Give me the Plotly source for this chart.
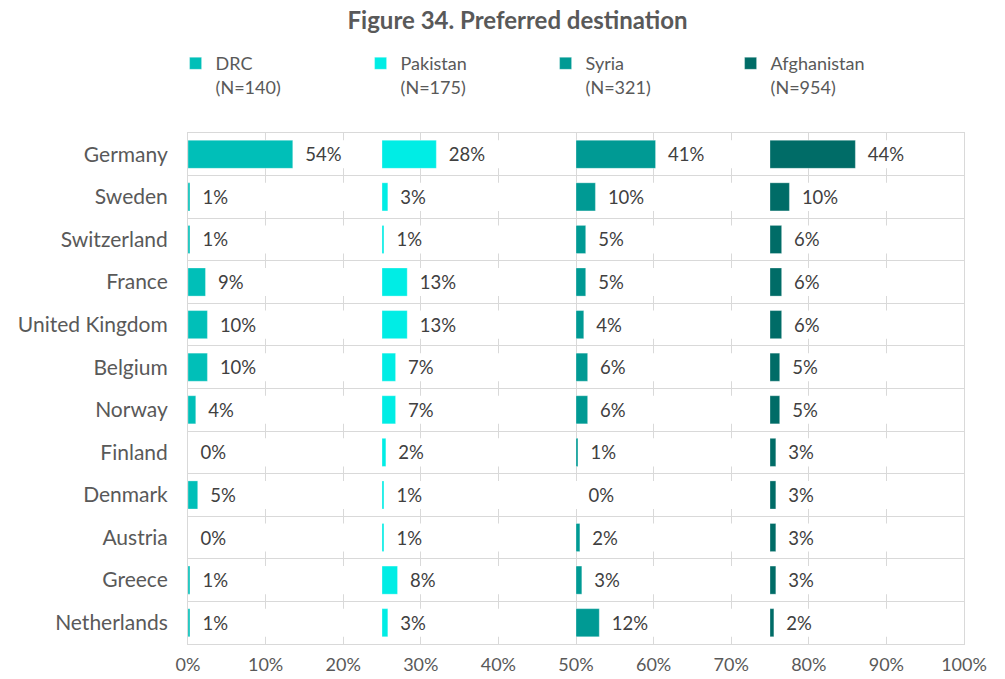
import plotly.graph_objects as go

countries = ["Germany", "Sweden", "Switzerland", "France", "United Kingdom", "Belgium",
             "Norway", "Finland", "Denmark", "Austria", "Greece", "Netherlands"]

series_names = ["DRC", "Pakistan", "Syria", "Afghanistan"]
series_n = [140, 175, 321, 954]

drc = [54, 1, 1, 9, 10, 10, 4, 0, 5, 0, 1, 1]
pakistan = [28, 3, 1, 13, 13, 7, 7, 2, 1, 1, 8, 3]
syria = [41, 10, 5, 5, 4, 6, 6, 1, 0, 2, 3, 12]
afghanistan = [44, 10, 6, 6, 6, 5, 5, 3, 3, 3, 3, 2]

x_ticks = [0, 10, 20, 30, 40, 50, 60, 70, 80, 90, 100]
x_tick_labels = [f"{t}%" for t in x_ticks]

colors = ["#00BFB8", "#00EDE5", "#009A94", "#006C67"]
series_values = [drc, pakistan, syria, afghanistan]

FONT = "Lato, 'Open Sans', sans-serif"
SECTION = 100 / len(series_values)  # each series gets a quarter of the axis

fig = go.Figure()

# white row bands (hide vertical gridlines behind the bars, like the original)
fig.add_trace(go.Bar(
    y=countries, x=[100] * len(countries), base=[0] * len(countries),
    orientation="h", marker=dict(color="white", line=dict(width=0)),
    showlegend=False, hoverinfo="skip",
))

for i, (name, n, vals, col) in enumerate(zip(series_names, series_n, series_values, colors)):
    fig.add_trace(go.Bar(
        y=countries,
        x=[v * SECTION / 100 for v in vals],
        base=[i * SECTION] * len(countries),
        orientation="h",
        name=f"{name}<br>(N={n})",
        marker=dict(color=col, line=dict(color="rgba(255,255,255,0.6)", width=0.5)),
        text=[f"\u00a0\u00a0{v}%" for v in vals],
        textposition="outside",
        cliponaxis=False,
        textfont=dict(family=FONT, size=18.5, color="#404040"),
        customdata=vals,
        hovertemplate="%{y}: %{customdata}%<extra>" + name + "</extra>",
    ))

fig.update_layout(
    width=1005, height=679,
    barmode="overlay",
    bargap=0.34,
    paper_bgcolor="white",
    plot_bgcolor="white",
    margin=dict(l=188, r=41, t=133, b=35),
    font=dict(family=FONT, color="#595959"),
    title=dict(
        text="<b>Figure 34. Preferred destination</b>",
        x=0.515, xanchor="center", y=0.97, yanchor="middle",
        font=dict(family=FONT, size=24, color="#595959"),
    ),
    legend=dict(
        orientation="h",
        x=-0.016, xanchor="left",
        y=1.172, yanchor="top",
        valign="top",
        entrywidth=140,
        font=dict(family=FONT, size=18, color="#595959"),
        bgcolor="rgba(0,0,0,0)",
    ),
    xaxis=dict(
        range=[0, 100],
        tickmode="array",
        tickvals=x_ticks,
        ticktext=x_tick_labels,
        showgrid=True, gridcolor="#D9D9D9", gridwidth=1,
        zeroline=False,
        showline=True, mirror=True, linecolor="#D9D9D9", linewidth=1,
        ticks="",
        automargin=False,
        ticklabelstandoff=4,
        tickfont=dict(family=FONT, size=18, color="#595959"),
    ),
    yaxis=dict(
        autorange="reversed",
        tickson="boundaries",
        showgrid=True, gridcolor="#D9D9D9", gridwidth=1,
        showline=True, mirror=True, linecolor="#D9D9D9", linewidth=1,
        ticks="",
        automargin=False,
        ticklabelstandoff=15,
        tickfont=dict(family=FONT, size=21, color="#595959"),
    ),
)

fig.write_html("out.html", config={"displayModeBar": False},
               post_script="document.body.style.margin='0';")
